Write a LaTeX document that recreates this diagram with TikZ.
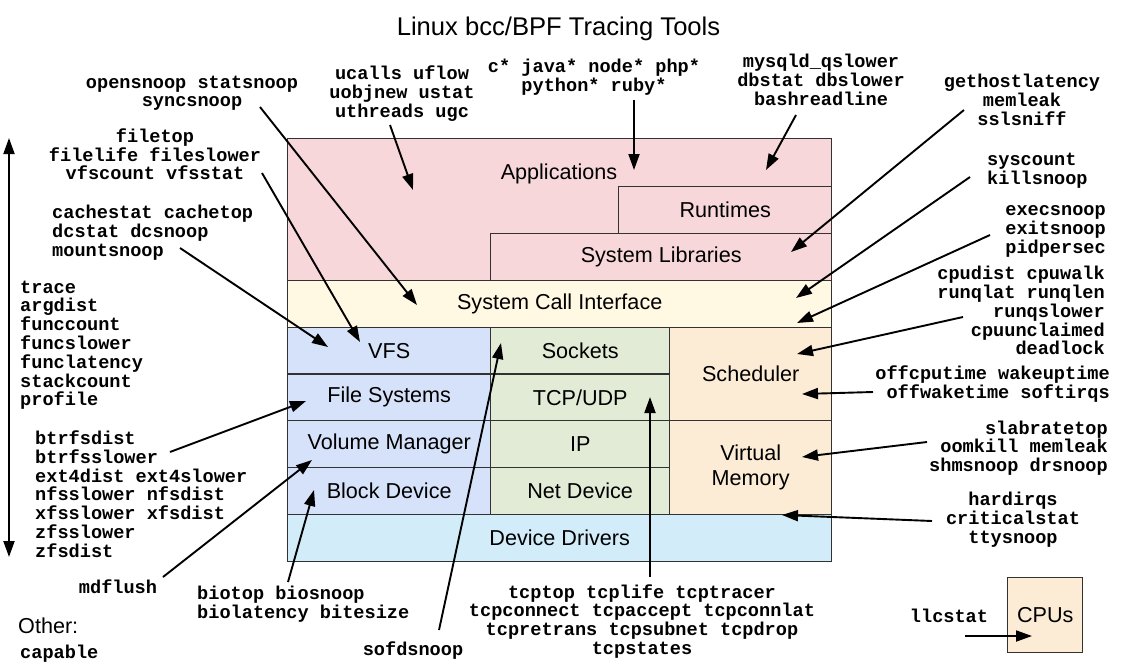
\documentclass[tikz,border=0pt]{standalone}
\usepackage{fontspec}
\setmainfont{Liberation Sans}
\setmonofont{Liberation Mono}
\usetikzlibrary{arrows.meta}
\definecolor{appc}{RGB}{248,215,218}
\definecolor{sysc}{RGB}{255,249,227}
\definecolor{blc}{RGB}{214,226,249}
\definecolor{grc}{RGB}{226,235,214}
\definecolor{orc}{RGB}{252,236,214}
\definecolor{ddc}{RGB}{210,237,249}
\definecolor{edgec}{RGB}{50,50,50}
\newcommand\tst{\rule[-5pt]{0pt}{18pt}}
\begin{document}
\begin{tikzpicture}[x=1pt,y=-1pt,
  layer/.style={draw=edgec, line width=1.4pt, inner sep=0pt, anchor=north west, font=\fontsize{21.6}{25}\selectfont, align=center},
  lbl/.style={font=\fontsize{21.6}{25}\selectfont, inner sep=0pt, align=center},
  tool/.style={font=\ttfamily\bfseries\fontsize{18.6}{18.8}\selectfont, inner sep=0pt},
  arr/.style={line width=1.9pt, -{Triangle[length=16pt,width=11pt]}},
  darr/.style={line width=1.9pt, {Triangle[length=16pt,width=11pt]}-{Triangle[length=16pt,width=11pt]}},
]
\fill[white] (0,0) rectangle (1124,664);
\useasboundingbox (0,0) rectangle (1124,664);

% title
\node[font=\fontsize{25.6}{30}\selectfont, inner sep=0pt] (title) at (558.5,29) {Linux bcc/BPF Tracing Tools};

% layers
\node[layer, fill=appc, minimum width=544pt, minimum height=142pt] (apps) at (287,138) {};
\node[lbl] (appslbl) at (559,174) {Applications};
\node[layer, fill=appc, minimum width=213pt, minimum height=47pt] (rt) at (618,186) {Runtimes};
\node[layer, fill=appc, minimum width=341pt, minimum height=47pt] (slib) at (490,233) {System Libraries};
\node[layer, fill=sysc, minimum width=544pt, minimum height=46.5pt] (sci) at (287,280) {System Call Interface};
\node[layer, fill=blc, minimum width=203pt, minimum height=46.8pt] (vfs) at (287,326.5) {VFS};
\node[layer, fill=blc, minimum width=203pt, minimum height=46.8pt] (fs) at (287,373.3) {File Systems};
\node[layer, fill=blc, minimum width=203pt, minimum height=46.8pt] (vm) at (287,420) {Volume Manager};
\node[layer, fill=blc, minimum width=203pt, minimum height=47pt] (bd) at (287,466.8) {Block Device};
\node[layer, fill=grc, minimum width=179pt, minimum height=46.8pt] (sock) at (490,326.5) {Sockets};
\node[layer, fill=grc, minimum width=179pt, minimum height=46.8pt] (tcp) at (490,373.3) {TCP/UDP};
\node[layer, fill=grc, minimum width=179pt, minimum height=46.8pt] (ip) at (490,420) {IP};
\node[layer, fill=grc, minimum width=179pt, minimum height=47pt] (nd) at (490,466.8) {Net Device};
\node[layer, fill=orc, minimum width=162pt, minimum height=93.5pt] (sched) at (669,326.5) {Scheduler};
\node[layer, fill=orc, minimum width=162pt, minimum height=93.8pt] (virt) at (669,420) {Virtual\\Memory};
\node[layer, fill=ddc, minimum width=544pt, minimum height=47.2pt] (dd) at (287,513.8) {Device Drivers};
\node[layer, fill=orc, minimum width=75pt, minimum height=75pt] (cpus) at (1007,577) {CPUs};

% tool texts
\node[tool, align=center] (topen) at (192,93.5) {\tst opensnoop statsnoop\\\tst syncsnoop};
\node[tool, align=center] (tucalls) at (402,94) {\tst ucalls uflow\\\tst uobjnew ustat\\\tst uthreads ugc};
\node[tool, align=center] (tlang) at (594,77.5) {\tst c* java* node* php*\\\tst python* ruby*};
\node[tool, align=center] (tmysql) at (821,82.5) {\tst mysqld\_qslower\\\tst dbstat dbslower\\\tst bashreadline};
\node[tool, align=center] (tghl) at (1022,102.5) {\tst gethostlatency\\\tst memleak\\\tst sslsniff};
\node[tool, align=left, anchor=west] (tsys) at (987,171) {\tst syscount\\\tst killsnoop};
\node[tool, align=right, anchor=east] (texec) at (1106,230.5) {\tst execsnoop\\\tst exitsnoop\\\tst pidpersec};
\node[tool, align=right, anchor=east] (tcpu) at (1105,313) {\tst cpudist cpuwalk\\\tst runqlat runqlen\\\tst runqslower\\\tst cpuunclaimed\\\tst deadlock};
\node[tool, align=right, anchor=east] (toff) at (1110,385) {\tst offcputime wakeuptime\\\tst offwaketime softirqs};
\node[tool, align=right, anchor=east] (tslab) at (1108,448.7) {\tst slabratetop\\\tst oomkill memleak\\\tst shmsnoop drsnoop};
\node[tool, align=center] (thard) at (1013,520.5) {\tst hardirqs\\\tst criticalstat\\\tst ttysnoop};
\node[tool, align=center] (tfile) at (155,156.7) {\tst filetop\\\tst filelife fileslower\\\tst vfscount vfsstat};
\node[tool, align=left, anchor=west] (tcache) at (52,233) {\tst cachestat cachetop\\\tst dcstat dcsnoop\\\tst mountsnoop};
\node[tool, align=left, anchor=west] (ttrace) at (20,345.5) {\tst trace\\\tst argdist\\\tst funccount\\\tst funcslower\\\tst funclatency\\\tst stackcount\\\tst profile};
\node[tool, align=left, anchor=west] (tbtrfs) at (35,496.5) {\tst btrfsdist\\\tst btrfsslower\\\tst ext4dist ext4slower\\\tst nfsslower nfsdist\\\tst xfsslower xfsdist\\\tst zfsslower\\\tst zfsdist};
\node[tool, align=center] (tmd) at (118,589) {\tst mdflush};
\node[tool, align=left, anchor=west] (tbio) at (197,605) {\tst biotop biosnoop\\\tst biolatency bitesize};
\node[tool, align=center] (tsofd) at (413,651) {\tst sofdsnoop};
\node[tool, align=center] (ttcp) at (642,622) {\tst tcptop tcplife tcptracer\\\tst tcpconnect tcpaccept tcpconnlat\\\tst tcpretrans tcpsubnet tcpdrop\\\tst tcpstates};
\node[tool, align=center] (tllc) at (949,618) {\tst llcstat};
\node[lbl, anchor=west] (other) at (18,626) {Other:};
\node[tool, align=left, anchor=west] (tcap) at (20,654) {\tst capable};

% arrow end points
\coordinate (s1) at (260,107);  \coordinate (e1) at (417,305);
\coordinate (s2) at (262,173);  \coordinate (e2) at (360,342);
\coordinate (s3) at (180,248);  \coordinate (e3) at (328,347);
\coordinate (s4) at (390,125);  \coordinate (e4) at (413,190);
\coordinate (s5) at (634,100);  \coordinate (e5) at (634,170);
\coordinate (s6) at (796,115);  \coordinate (e6) at (766,170);
\coordinate (s7) at (964,110);  \coordinate (e7) at (791,252);
\coordinate (s8) at (970,177);  \coordinate (e8) at (796,298);
\coordinate (s9) at (990,235);  \coordinate (e9) at (797,323);
\coordinate (s10) at (963,317); \coordinate (e10) at (797,354);
\coordinate (s11) at (873,392); \coordinate (e11) at (802,394);
\coordinate (s12) at (927,442); \coordinate (e12) at (802,457);
\coordinate (s13) at (932,521); \coordinate (e13) at (782,515);
\coordinate (s14) at (170,452); \coordinate (e14) at (306,401);
\coordinate (s15) at (163,577); \coordinate (e15) at (312,460);
\coordinate (s16) at (288,582); \coordinate (e16) at (314,490);
\coordinate (s17) at (439,630); \coordinate (e17) at (501,343);
\coordinate (s18) at (650,577); \coordinate (e18) at (650,397);
\coordinate (s19) at (965,636); \coordinate (e19) at (1032,636);
\coordinate (vtop) at (9,138);  \coordinate (vbot) at (9,557);

\foreach \i in {1,...,19} { \draw[arr] (s\i) -- (e\i); }
\draw[darr] (vtop) -- (vbot);
\end{tikzpicture}
\end{document}
